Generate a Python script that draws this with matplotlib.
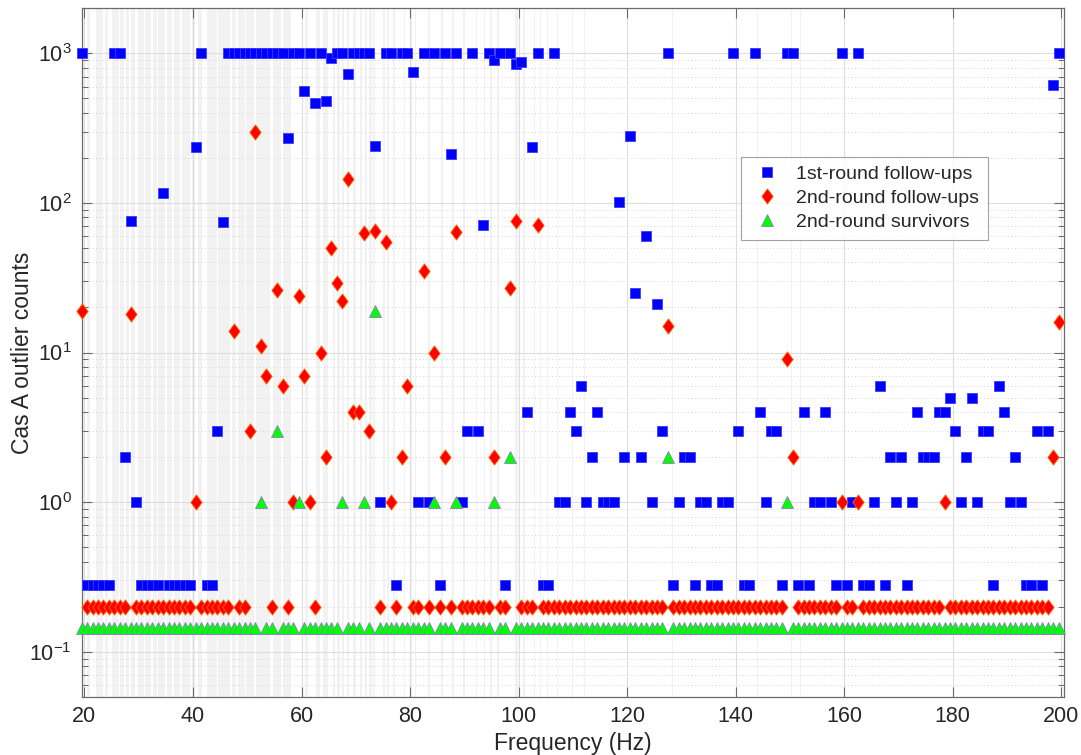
import numpy as np
import matplotlib
matplotlib.use('Agg')
import matplotlib.pyplot as plt
from matplotlib.path import Path
from matplotlib.ticker import FixedLocator, LogLocator, NullFormatter, FuncFormatter

plt.rcParams['font.family'] = ['Liberation Sans', 'DejaVu Sans']
plt.rcParams['mathtext.default'] = 'regular'

# 1 Hz search bands (centre frequencies, Hz)
freq = np.arange(19.5, 200.0, 1.0)

# outlier counts per band, 19.5 Hz ... 199.5 Hz (10 bands per row)
first_round = [
    1000, 0, 0, 0, 0, 0, 1000, 1000, 2, 76,
    1, 0, 0, 0, 0, 117, 0, 0, 0, 0,
    0, 236, 1000, 0, 0, 3, 75, 1000, 1000, 1000,
    1000, 1000, 1000, 1000, 1000, 1000, 1000, 1000, 270, 1000,
    1000, 564, 1000, 467, 1000, 481, 926, 1000, 1000, 728,
    1000, 1000, 1000, 1000, 242, 1, 1000, 1000, 0, 1000,
    1000, 753, 1, 1000, 1, 1000, 0, 1000, 213, 1000,
    1, 3, 1000, 3, 71, 1000, 903, 1000, 0, 1000,
    845, 880, 4, 235, 1000, 0, 0, 1000, 1, 1,
    4, 3, 6, 1, 2, 4, 1, 1, 1, 102,
    2, 278, 25, 2, 60, 1, 21, 3, 1000, 0,
    1, 2, 2, 0, 1, 1, 0, 0, 1, 1,
    1000, 3, 0, 0, 1000, 4, 1, 3, 3, 0,
    1000, 1000, 0, 4, 0, 1, 1, 4, 1, 0,
    1000, 0, 1, 1000, 0, 0, 1, 6, 0, 2,
    1, 2, 0, 1, 4, 2, 2, 2, 4, 4,
    5, 3, 1, 2, 5, 1, 3, 3, 0, 6,
    4, 1, 2, 1, 0, 0, 3, 0, 3, 615,
    1000,
]

second_round = [
    19, 0, 0, 0, 0, 0, 0, 0, 0, 18,
    0, 0, 0, 0, 0, 0, 0, 0, 0, 0,
    0, 1, 0, 0, 0, 0, 0, 0, 14, 0,
    0, 3, 300, 11, 7, 0, 26, 6, 0, 1,
    24, 7, 1, 0, 10, 2, 50, 29, 22, 145,
    4, 4, 63, 3, 65, 0, 55, 1, 0, 2,
    6, 0, 0, 35, 0, 10, 0, 2, 0, 64,
    0, 0, 0, 0, 0, 0, 2, 0, 0, 27,
    76, 0, 0, 0, 71, 0, 0, 0, 0, 0,
    0, 0, 0, 0, 0, 0, 0, 0, 0, 0,
    0, 0, 0, 0, 0, 0, 0, 0, 15, 0,
    0, 0, 0, 0, 0, 0, 0, 0, 0, 0,
    0, 0, 0, 0, 0, 0, 0, 0, 0, 0,
    9, 2, 0, 0, 0, 0, 0, 0, 0, 0,
    1, 0, 0, 1, 0, 0, 0, 0, 0, 0,
    0, 0, 0, 0, 0, 0, 0, 0, 0, 1,
    0, 0, 0, 0, 0, 0, 0, 0, 0, 0,
    0, 0, 0, 0, 0, 0, 0, 0, 0, 2,
    16,
]

survivors = [
    0, 0, 0, 0, 0, 0, 0, 0, 0, 0,
    0, 0, 0, 0, 0, 0, 0, 0, 0, 0,
    0, 0, 0, 0, 0, 0, 0, 0, 0, 0,
    0, 0, 0, 1, 0, 0, 3, 0, 0, 0,
    1, 0, 0, 0, 0, 0, 0, 0, 1, 0,
    0, 0, 1, 0, 19, 0, 0, 0, 0, 0,
    0, 0, 0, 0, 0, 1, 0, 0, 0, 1,
    0, 0, 0, 0, 0, 0, 1, 0, 0, 2,
    0, 0, 0, 0, 0, 0, 0, 0, 0, 0,
    0, 0, 0, 0, 0, 0, 0, 0, 0, 0,
    0, 0, 0, 0, 0, 0, 0, 0, 2, 0,
    0, 0, 0, 0, 0, 0, 0, 0, 0, 0,
    0, 0, 0, 0, 0, 0, 0, 0, 0, 0,
    1, 0, 0, 0, 0, 0, 0, 0, 0, 0,
    0, 0, 0, 0, 0, 0, 0, 0, 0, 0,
    0, 0, 0, 0, 0, 0, 0, 0, 0, 0,
    0, 0, 0, 0, 0, 0, 0, 0, 0, 0,
    0, 0, 0, 0, 0, 0, 0, 0, 0, 0,
    0,
]

# vetoed frequency ranges shown as grey stripes (Hz)
veto_lo = [19.2, 20.4, 22.2, 23.8, 25.0, 26.6, 27.6, 28.6, 29.9, 31.2, 32.6,
           33.6, 35.3, 36.5, 37.9, 39.8, 41.0, 42.5, 44.7, 47.1, 48.3, 49.8,
           51.7, 54.7, 56.6, 60.6, 62.7, 64.0, 65.8, 66.6, 67.5, 68.3, 69.5,
           70.7, 71.7, 72.5, 73.2, 75.0, 75.8, 76.8, 78.8, 80.0, 80.9, 83.3,
           85.7, 87.8, 89.8, 92.1, 93.6, 94.8, 96.1, 99.3, 100.9, 102.9,
           104.0, 105.2, 107.1, 109.8, 112.0, 128.2, 140.0, 144.0, 150.1,
           151.8, 199.9]
veto_hi = [19.8, 21.0, 23.5, 24.4, 26.3, 27.2, 28.3, 29.3, 30.9, 32.3, 33.4,
           34.9, 36.2, 37.6, 39.5, 40.4, 41.6, 44.4, 46.8, 48.0, 49.5, 51.3,
           54.1, 56.2, 58.1, 61.2, 63.4, 64.9, 66.2, 67.0, 67.9, 68.7, 70.1,
           71.2, 72.1, 73.0, 73.6, 75.3, 76.1, 77.2, 79.0, 80.4, 81.1, 83.6,
           86.0, 88.1, 90.1, 92.3, 93.8, 95.1, 96.3, 99.8, 101.1, 103.1,
           104.2, 105.4, 107.3, 110.0, 112.2, 128.4, 140.3, 144.2, 150.3,
           152.0, 200.1]

legend_labels = ['1st-round follow-ups', '2nd-round follow-ups',
                 '2nd-round survivors']


def main():
    # bands with no outliers are drawn on fixed levels below 1
    zero_level = {'first': 0.28, 'second': 0.2, 'surv': 0.145}
    y1 = np.where(np.array(first_round) == 0, zero_level['first'], first_round)
    y2 = np.where(np.array(second_round) == 0, zero_level['second'], second_round)
    y3 = np.where(np.array(survivors) == 0, zero_level['surv'], survivors)

    diamond = Path([(0, 1), (0.74, 0), (0, -1), (-0.74, 0), (0, 1)],
                   [Path.MOVETO, Path.LINETO, Path.LINETO, Path.LINETO,
                    Path.CLOSEPOLY])

    fig = plt.figure(figsize=(10.81, 7.55), dpi=100)
    ax = fig.add_axes([0.0756, 0.0772, 0.9087, 0.9118])

    for lo, hi in zip(veto_lo, veto_hi):
        ax.axvspan(lo, hi, color='0.45', alpha=0.09, lw=0, zorder=0)

    h1, = ax.plot(freq, y1, ls='none', marker='s', ms=6.6, mfc='#0000ff',
                  mec='#3c3cff', mew=0.6, clip_on=False, zorder=3)
    h2, = ax.plot(freq, y2, ls='none', marker=diamond, ms=11, mfc='#ff0000',
                  mec='#ff6a00', mew=0.6, clip_on=False, zorder=4)
    h3, = ax.plot(freq, y3, ls='none', marker='^', ms=9, mfc='#00ff00',
                  mec='#8c7fc4', mew=0.6, clip_on=False, zorder=5)

    ax.set_yscale('log')
    ax.set_xlim(19.5, 200.5)
    ax.set_ylim(0.05, 2000)

    ax.xaxis.set_major_locator(FixedLocator(np.arange(20, 201, 20)))
    ax.yaxis.set_major_locator(LogLocator(base=10, numticks=10))
    ax.yaxis.set_minor_locator(LogLocator(base=10, subs=np.arange(2, 10), numticks=20))
    ax.yaxis.set_minor_formatter(NullFormatter())
    ax.yaxis.set_major_formatter(FuncFormatter(
        lambda v, p: r'$10^{%d}$' % int(round(np.log10(v)))))

    ax.grid(which='major', color='#dedede', lw=0.8, zorder=1)
    ax.yaxis.grid(which='minor', color='#d6d6d6', lw=0.7, ls=(0, (1, 2.5)))
    ax.set_axisbelow(True)

    ax.tick_params(which='both', direction='in', top=True, right=True,
                   color='#6a6a6a', labelcolor='#262626', labelsize=15.5)
    ax.tick_params(which='major', length=7, width=0.8)
    ax.tick_params(which='minor', length=4, width=0.7)
    ax.tick_params(axis='x', pad=6.5)
    ax.tick_params(axis='y', pad=7)
    for s in ax.spines.values():
        s.set_color('#6a6a6a')
        s.set_linewidth(0.9)

    ax.set_xlabel('Frequency (Hz)', fontsize=16.5, color='#262626', labelpad=4)
    ax.set_ylabel('Cas A outlier counts', fontsize=16.5, color='#262626', labelpad=-3)

    leg = ax.legend([h1, h2, h3], legend_labels, loc='upper left',
                    bbox_to_anchor=(0.671, 0.7844), borderaxespad=0,
                    fontsize=14, frameon=True, fancybox=False,
                    handletextpad=0.6, labelspacing=0.32, borderpad=0.45,
                    handlelength=1.8)
    leg.get_frame().set_edgecolor('#8a8a8a')
    leg.get_frame().set_linewidth(0.8)
    for t in leg.get_texts():
        t.set_color('#262626')

    fig.savefig('out.png', dpi=100)


if __name__ == "__main__":
    main()
